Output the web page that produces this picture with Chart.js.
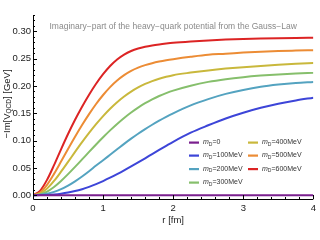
<!DOCTYPE html>
<html><head><meta charset="utf-8">
<script src="https://cdn.jsdelivr.net/npm/chart.js@4"></script>
<style>html,body{margin:0;padding:0;background:#fff}#c{display:block}</style>
</head><body>
<canvas id="c" width="320" height="240"></canvas>
<script>
const rValues = [0,0.1,0.2,0.3,0.4,0.5,0.6,0.7,0.8,0.9,1.0,1.1,1.2,1.3,1.4,1.5,1.6,1.7,1.8,1.9,2.0,2.25,2.5,2.75,3.0,3.25,3.5,3.75,4.0];
const mD0   = [0,0,0,0,0,0,0,0,0,0,0,0,0,0,0,0,0,0,0,0,0,0,0,0,0,0,0,0,0];
const mD100 = [0,0.0001,0.0005,0.0014,0.0028,0.0048,0.0075,0.011,0.0153,0.0202,0.0259,0.032,0.0386,0.0455,0.0527,0.0601,0.0676,0.0753,0.0829,0.0904,0.0978,0.1145,0.128,0.1405,0.151,0.160,0.1675,0.1735,0.1785];
const mD200 = [0,0.0006,0.0025,0.006,0.011,0.0176,0.0254,0.0343,0.0439,0.0542,0.064,0.074,0.084,0.094,0.1035,0.1125,0.121,0.129,0.1365,0.1435,0.150,0.1645,0.176,0.1855,0.1928,0.1985,0.2025,0.2055,0.2075];
const mD300 = [0,0.0015,0.0065,0.015,0.026,0.0385,0.0518,0.0655,0.0793,0.0929,0.1061,0.1187,0.1305,0.1415,0.1515,0.1605,0.1685,0.1755,0.1816,0.1869,0.1915,0.2005,0.2075,0.2125,0.2162,0.219,0.2212,0.2228,0.224];
const mD400 = [0,0.003,0.012,0.026,0.043,0.061,0.0792,0.097,0.114,0.130,0.1448,0.1583,0.1703,0.1808,0.1898,0.1974,0.2037,0.2089,0.2132,0.2168,0.2198,0.2245,0.2285,0.2318,0.2345,0.2368,0.2388,0.2405,0.242];
const mD500 = [0,0.005,0.019,0.039,0.0615,0.0845,0.107,0.1285,0.1485,0.167,0.1835,0.198,0.210,0.2198,0.2276,0.2336,0.2382,0.2418,0.2447,0.2471,0.2491,0.2535,0.2572,0.259,0.2612,0.2628,0.264,0.2648,0.2655];
const mD600 = [0,0.008,0.028,0.055,0.084,0.112,0.138,0.162,0.184,0.204,0.2215,0.2365,0.2485,0.2575,0.264,0.2685,0.2717,0.2741,0.276,0.2776,0.279,0.2815,0.2835,0.285,0.2862,0.287,0.2876,0.288,0.2883];
const seriesNames = ["0","100MeV","200MeV","300MeV","400MeV","500MeV","600MeV"];
const xTicks = [0,1,2,3,4];
const yTicks = [0,0.05,0.10,0.15,0.20,0.25,0.30];
const titleText = "Imaginary\u2212part of the heavy\u2212quark potential from the Gauss\u2212Law";

const colors = ["#7a1f8e","#3d45d8","#54a3c0","#86bf6c","#c9b83c","#ec8c35","#dc2424"];
const allSeries = [mD0,mD100,mD200,mD300,mD400,mD500,mD600];
const FONT = "'Liberation Sans', Arial, sans-serif";

const datasets = allSeries.map((s,i)=>({
  label: seriesNames[i],
  data: s.map((v,j)=>({x:rValues[j], y:v})),
  borderColor: colors[i], backgroundColor: colors[i],
  borderWidth: 2, pointRadius: 0, fill:false,
  cubicInterpolationMode: 'monotone'
}));

const extras = {
  id:'extras',
  afterDraw(chart){
    const ctx = chart.ctx, ca = chart.chartArea;
    const xs = chart.scales.x, ys = chart.scales.y;
    ctx.save();
    ctx.strokeStyle = '#000'; ctx.lineWidth = 1;
    ctx.beginPath();
    ctx.moveTo(ca.left+0.5, ca.top); ctx.lineTo(ca.left+0.5, ca.bottom+0.5);
    ctx.lineTo(ca.right, ca.bottom+0.5);
    ctx.stroke();
    ctx.beginPath();
    for (let k=0;k<=20;k++){
      const v = k*0.2; const px = Math.round(xs.getPixelForValue(v))+0.5;
      const len = (k%5===0)?4:2;
      ctx.moveTo(px, ca.bottom); ctx.lineTo(px, ca.bottom-len);
    }
    for (let k=0;k<=33;k++){
      const v = k*0.01; const py = Math.round(ys.getPixelForValue(v))+0.5;
      if (py < ca.top) continue;
      const len = (k%5===0)?4:2;
      ctx.moveTo(ca.left, py); ctx.lineTo(ca.left+len, py);
    }
    ctx.stroke();
    ctx.fillStyle = '#8a8a8a';
    ctx.font = '8.5px ' + FONT;
    ctx.textAlign = 'center'; ctx.textBaseline = 'middle';
    ctx.fillText(titleText, (ca.left+ca.right)/2, 27);
    ctx.fillStyle = '#222';
    ctx.font = '9.5px ' + FONT;
    ctx.fillText('r [fm]', (ca.left+ca.right)/2, 220);
    ctx.save();
    ctx.translate(7, 104);
    ctx.rotate(-Math.PI/2);
    const f1 = '9.5px ' + FONT, f2 = '6.5px ' + FONT;
    const parts = [["\u2212Im[V",f1,0],["QCD",f2,2.5],["] [GeV]",f1,0]];
    let w = 0;
    parts.forEach(p=>{ctx.font=p[1]; w+=ctx.measureText(p[0]).width;});
    let x = -w/2;
    ctx.textAlign='left';
    parts.forEach(p=>{ctx.font=p[1]; ctx.fillText(p[0], x, p[2]); x+=ctx.measureText(p[0]).width;});
    ctx.restore();
    const cols = [[189,[0,1,2,3]],[248,[4,5,6]]];
    const rowsY = [142.5,155.5,169,182.5];
    ctx.textBaseline='middle'; ctx.textAlign='left';
    cols.forEach(c=>{
      c[1].forEach((di,r)=>{
        const y = rowsY[r];
        ctx.fillStyle = colors[di];
        ctx.fillRect(c[0], y-1, 10, 2.2);
        let x = c[0]+14;
        ctx.fillStyle = '#333';
        ctx.font = 'italic 7px ' + FONT;
        ctx.fillText('m', x, y); x += ctx.measureText('m').width;
        ctx.font = '5px ' + FONT;
        ctx.fillText('D', x, y+1.8); x += ctx.measureText('D').width;
        ctx.font = '7px ' + FONT;
        ctx.fillText('=' + seriesNames[di], x, y);
      });
    });
    ctx.restore();
  }
};

new Chart(document.getElementById('c'), {
  type:'line',
  data:{datasets},
  options:{
    responsive:false, animation:false, devicePixelRatio:1,
    layout:{padding:{top:15,right:3,left:0,bottom:0}},
    plugins:{legend:{display:false}, tooltip:{enabled:false}, title:{display:false}},
    scales:{
      x:{type:'linear', min:0, max:4,
        afterBuildTicks(s){ s.ticks = xTicks.map(v=>({value:v})); },
        afterFit(s){ s.height = 41; },
        grid:{display:false, drawTicks:false}, border:{display:false},
        ticks:{padding:4, color:'#222', font:{family:FONT, size:9.5}, maxRotation:0,
          callback:v=>String(v)}
      },
      y:{type:'linear', min:-0.007, max:0.33,
        afterBuildTicks(s){ s.ticks = yTicks.map(v=>({value:v})); },
        afterFit(s){ s.width = 33; },
        grid:{display:false, drawTicks:false}, border:{display:false},
        ticks:{padding:2, color:'#222', font:{family:FONT, size:9.5},
          callback:v=>Number(v).toFixed(2)}
      }
    }
  },
  plugins:[extras]
});
</script>
</body></html>
